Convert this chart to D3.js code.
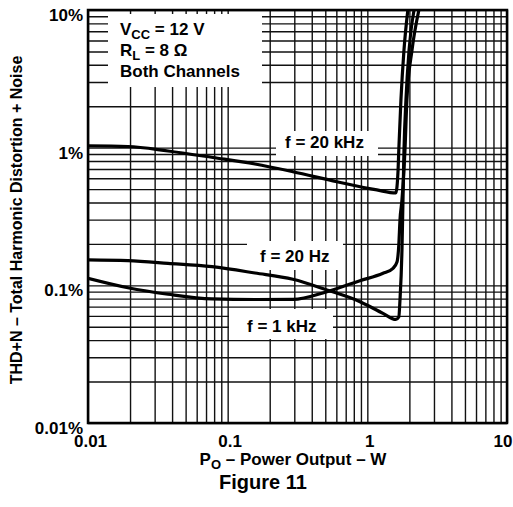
<!DOCTYPE html>
<html>
<head>
<meta charset="utf-8">
<script src="https://cdn.jsdelivr.net/npm/d3@7"></script>
<style>
  html, body { margin: 0; padding: 0; background: #fff; }
  svg { display: block; font-family: "Liberation Sans", Arial, Helvetica, sans-serif; font-weight: bold; }
</style>
</head>
<body>
<svg id="chart" width="513" height="507"></svg>
<script>
// ---- data ----
const xTickValues = [0.01, 0.1, 1, 10];
const xTickLabels = ["0.01", "0.1", "1", "10"];
const yTickValues = [0.01, 0.1, 1, 10];
const yTickLabels = ["0.01%", "0.1%", "1%", "10%"];

// f = 20 kHz
const power20k = [0.01, 0.0193, 0.0374, 0.0785, 0.157, 0.293, 0.606, 1.17, 1.60, 1.66, 1.68, 1.74, 1.83, 1.95];
const thd20k   = [1.03, 1.02, 0.946, 0.848, 0.761, 0.669, 0.566, 0.493, 0.469, 0.688, 0.962, 2.22, 5.13, 10];

// f = 20 Hz
const power20Hz = [0.01, 0.0193, 0.0374, 0.0772, 0.157, 0.293, 0.514, 0.886, 1.295, 1.60, 1.68, 1.713, 1.77, 1.80, 1.83, 1.89, 1.99, 2.16];
const thd20Hz   = [0.153, 0.151, 0.1445, 0.1366, 0.1229, 0.1106, 0.0925, 0.0761, 0.0626, 0.0565, 0.0589, 0.0783, 0.181, 0.417, 0.962, 2.22, 5.13, 10];

// f = 1 kHz
const power1k = [0.01, 0.0193, 0.0374, 0.0772, 0.157, 0.293, 0.514, 0.886, 1.295, 1.527, 1.63, 1.68, 1.713, 1.77, 1.86, 1.92, 2.09, 2.34];
const thd1k   = [0.1125, 0.0961, 0.0861, 0.0796, 0.0789, 0.079, 0.0899, 0.108, 0.1223, 0.133, 0.1477, 0.196, 0.298, 0.417, 0.962, 2.22, 5.13, 10];

const seriesNames = ["f = 20 kHz", "f = 20 Hz", "f = 1 kHz"];

// ---- layout ----
const svg = d3.select("#chart");
const L = 88, R = 507, T = 10, B = 423;
const x = d3.scaleLog().domain([0.01, 10]).range([L, R]);
const y = d3.scaleLog().domain([0.01, 10]).range([B, T]);

// grid
const grid = svg.append("g");
grid.append("g")
  .attr("transform", `translate(0,${B})`)
  .call(d3.axisBottom(x).tickValues(x.ticks()).tickSize(-(B - T)).tickFormat(""))
  .call(g => g.select(".domain").remove())
  .call(g => g.selectAll("line").attr("stroke", "#111").attr("stroke-width", 1.4));
grid.append("g")
  .attr("transform", `translate(${L},0)`)
  .call(d3.axisLeft(y).tickValues(y.ticks()).tickSize(-(R - L)).tickFormat(""))
  .call(g => g.select(".domain").remove())
  .call(g => g.selectAll("line").attr("stroke", "#111").attr("stroke-width", 1.4));

// white label boxes
const boxes = [
  [108, 14, 154, 73],
  [276, 131, 102, 25],
  [247, 241, 96, 29],
  [229, 309, 104, 30]
];
svg.append("g").selectAll("rect").data(boxes).join("rect")
  .attr("x", d => d[0]).attr("y", d => d[1]).attr("width", d => d[2]).attr("height", d => d[3])
  .attr("fill", "#fff");

// curves
svg.append("clipPath").attr("id", "clip").append("rect")
  .attr("x", L).attr("y", T).attr("width", R - L).attr("height", B - T);
const line = d3.line().x(d => x(d[0])).y(d => y(d[1])).curve(d3.curveMonotoneX);
const series = [
  d3.zip(power20k, thd20k),
  d3.zip(power20Hz, thd20Hz),
  d3.zip(power1k, thd1k)
];
svg.append("g").attr("clip-path", "url(#clip)")
  .selectAll("path").data(series).join("path")
  .attr("d", line)
  .attr("fill", "none")
  .attr("stroke", "#000")
  .attr("stroke-width", 3.2)
  .attr("stroke-linejoin", "round");

// frame
svg.append("rect").attr("x", L).attr("y", T).attr("width", R - L).attr("height", B - T)
  .attr("fill", "none").attr("stroke", "#000").attr("stroke-width", 2.5);

// axes labels
const xAxis = svg.append("g").attr("transform", `translate(0,${B})`)
  .call(d3.axisBottom(x).tickValues(xTickValues).tickSize(0).tickPadding(0)
    .tickFormat((d, i) => xTickLabels[i]));
xAxis.select(".domain").remove();
xAxis.selectAll("text").attr("font-size", 17).attr("font-family", null).attr("font-weight", "bold")
  .attr("fill", "#000").attr("y", 24).attr("dy", 0).attr("dx", 2)
  .filter(d => d === 10).attr("text-anchor", "end").attr("dx", 5);

const yAxis = svg.append("g").attr("transform", `translate(${L},0)`)
  .call(d3.axisLeft(y).tickValues(yTickValues).tickSize(0).tickPadding(5)
    .tickFormat((d, i) => yTickLabels[i]));
yAxis.select(".domain").remove();
yAxis.selectAll("text").attr("font-size", 17).attr("font-family", null).attr("font-weight", "bold")
  .attr("fill", "#000").attr("dy", "0.32em").attr("y", 5);

// x title
const xt = svg.append("text").attr("x", 293).attr("y", 465).attr("text-anchor", "middle")
  .attr("font-size", 17);
xt.append("tspan").text("P");
xt.append("tspan").attr("font-size", 13).attr("dy", 4).text("O");
xt.append("tspan").attr("dy", -4).text(" – Power Output – W");

// figure caption
svg.append("text").attr("x", 263).attr("y", 489).attr("text-anchor", "middle")
  .attr("font-size", 20).text("Figure 11");

// y title
svg.append("text").attr("transform", "translate(22,220) rotate(-90)")
  .attr("text-anchor", "middle").attr("font-size", 16)
  .text("THD+N – Total Harmonic Distortion + Noise");

// conditions legend
const l1 = svg.append("text").attr("x", 120).attr("y", 35).attr("font-size", 17);
l1.append("tspan").text("V");
l1.append("tspan").attr("font-size", 13).attr("dy", 4).text("CC");
l1.append("tspan").attr("dy", -4).text(" = 12 V");
const l2 = svg.append("text").attr("x", 120).attr("y", 56).attr("font-size", 17);
l2.append("tspan").text("R");
l2.append("tspan").attr("font-size", 13).attr("dy", 4).text("L");
l2.append("tspan").attr("dy", -4).text(" = 8 Ω");
svg.append("text").attr("x", 120).attr("y", 77).attr("font-size", 17).text("Both Channels");

// series labels
const labelPos = [[285, 148], [260, 262], [247, 332]];
svg.append("g").selectAll("text").data(seriesNames).join("text")
  .attr("x", (d, i) => labelPos[i][0]).attr("y", (d, i) => labelPos[i][1])
  .attr("font-size", 17).text(d => d);
</script>
</body>
</html>
